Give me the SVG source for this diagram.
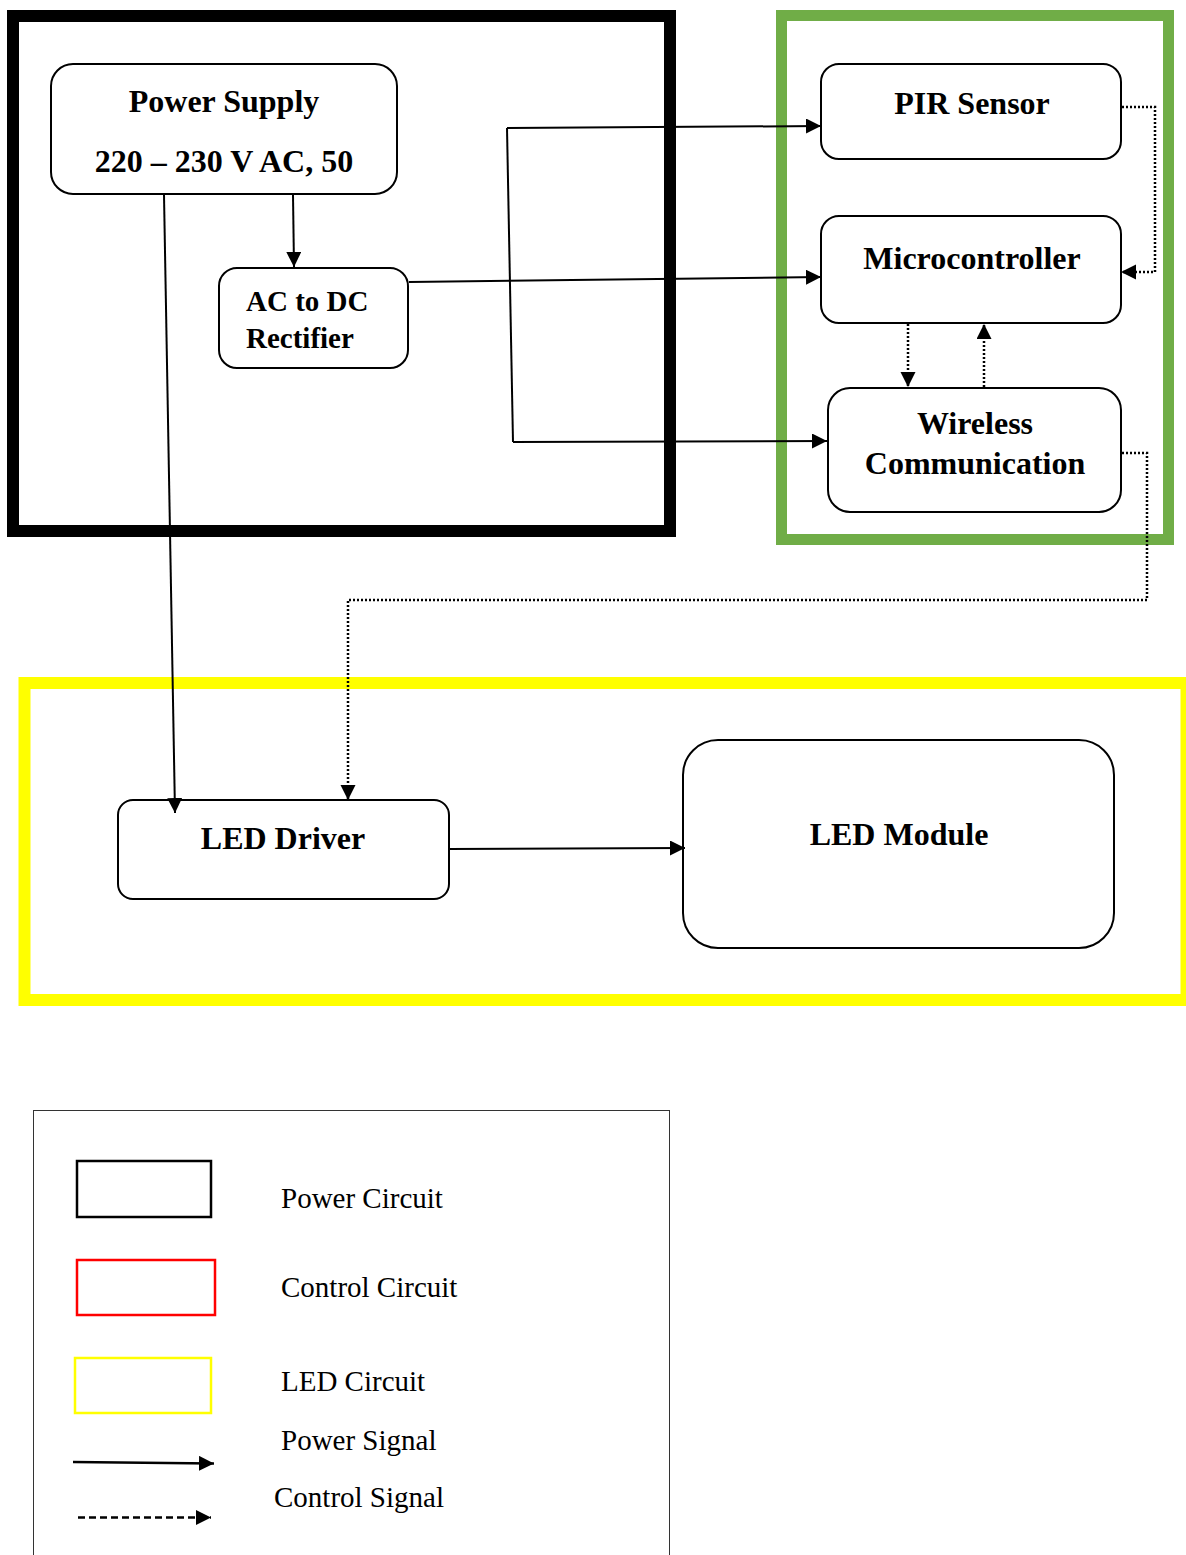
<svg xmlns="http://www.w3.org/2000/svg" width="1186" height="1555" viewBox="0 0 1186 1555">
  <style>
    .frame { fill: none; }
    .node { fill: #ffffff; stroke: #000000; stroke-width: 2; }
    .lbl { font-family: "Liberation Serif", "Times New Roman", serif; font-weight: bold; font-size: 32px; fill: #000000; }
    .lg { font-family: "Liberation Serif", "Times New Roman", serif; font-size: 29px; fill: #000000; }
    .wire { fill: none; stroke: #000000; stroke-width: 2; }
    .dot { fill: none; stroke: #000000; stroke-width: 2.5; stroke-dasharray: 2 2; }
  </style>
  <defs>
    <marker id="arrow" markerUnits="userSpaceOnUse" markerWidth="16" markerHeight="16" refX="15" refY="7.5" orient="auto">
      <path d="M0,0 L15,7.5 L0,15 z" fill="#000000"/>
    </marker>
  </defs>

  <rect width="1186" height="1555" fill="#ffffff"/>

  <!-- circuit frames -->
  <g id="frames">
    <rect id="power-frame" class="frame" x="13" y="16" width="657" height="515" stroke="#000000" stroke-width="12"/>
    <rect id="control-frame" class="frame" x="781.5" y="15.5" width="387" height="524" stroke="#70AD47" stroke-width="11"/>
    <rect id="led-frame" class="frame" x="24.5" y="683" width="1162" height="317" stroke="#FFFF00" stroke-width="12"/>
  </g>

  <!-- blocks -->
  <g id="power-supply">
    <rect class="node" x="51" y="64" width="346" height="130" rx="22"/>
    <text class="lbl" x="224" y="112" text-anchor="middle">Power Supply</text>
    <text class="lbl" x="224" y="172" text-anchor="middle">220 – 230 V AC, 50</text>
  </g>
  <g id="rectifier">
    <rect class="node" x="219" y="268" width="189" height="100" rx="18"/>
    <text class="lbl" x="246" y="311" style="font-size:29px">AC to DC</text>
    <text class="lbl" x="246" y="348" style="font-size:29px">Rectifier</text>
  </g>
  <g id="pir-sensor">
    <rect class="node" x="821" y="64" width="300" height="95" rx="18"/>
    <text class="lbl" x="972" y="114" text-anchor="middle">PIR Sensor</text>
  </g>
  <g id="microcontroller">
    <rect class="node" x="821" y="216" width="300" height="107" rx="18"/>
    <text class="lbl" x="972" y="269" text-anchor="middle">Microcontroller</text>
  </g>
  <g id="wireless">
    <rect class="node" x="828" y="388" width="293" height="124" rx="22"/>
    <text class="lbl" x="975" y="434" text-anchor="middle">Wireless</text>
    <text class="lbl" x="975" y="474" text-anchor="middle">Communication</text>
  </g>
  <g id="led-driver">
    <rect class="node" x="118" y="800" width="331" height="99" rx="15"/>
    <text class="lbl" x="283" y="849" text-anchor="middle">LED Driver</text>
  </g>
  <g id="led-module">
    <rect class="node" x="683" y="740" width="431" height="208" rx="35"/>
    <text class="lbl" x="899" y="845" text-anchor="middle">LED Module</text>
  </g>

  <!-- connectors -->
  <g id="connectors">
    <path class="wire" d="M293,195 L294,267" marker-end="url(#arrow)"/>
    <path class="wire" d="M164,195 L175,813" marker-end="url(#arrow)"/>
    <path class="wire" d="M409,282 L821,277" marker-end="url(#arrow)"/>
    <path class="wire" d="M507,128 L821,126" marker-end="url(#arrow)"/>
    <path class="wire" d="M507,128 L513,442"/>
    <path class="wire" d="M513,442 L827,441" marker-end="url(#arrow)"/>
    <path class="wire" d="M449,849 L685,848" marker-end="url(#arrow)"/>
    <path class="dot" d="M1122,107 H1155 V272 H1121" marker-end="url(#arrow)"/>
    <path class="dot" d="M1122,453 H1147 V600 H348 V800" marker-end="url(#arrow)"/>
    <path class="dot" d="M908,324 V387" marker-end="url(#arrow)"/>
    <path class="dot" d="M984,387 V324" marker-end="url(#arrow)"/>
  </g>

  <!-- legend -->
  <g id="legend">
    <rect x="33.5" y="1110.5" width="636" height="470" fill="none" stroke="#333333" stroke-width="1"/>
    <rect x="77" y="1161" width="134" height="56" fill="none" stroke="#000000" stroke-width="2.5"/>
    <text class="lg" x="281" y="1208">Power Circuit</text>
    <rect x="77" y="1260" width="138" height="55" fill="none" stroke="#FF0000" stroke-width="2.5"/>
    <text class="lg" x="281" y="1297">Control Circuit</text>
    <rect x="75" y="1358" width="136" height="55" fill="none" stroke="#FFFF00" stroke-width="2.5"/>
    <text class="lg" x="281" y="1391">LED Circuit</text>
    <path class="wire" d="M73,1462 L214,1463.5" marker-end="url(#arrow)" style="stroke-width:2.5"/>
    <text class="lg" x="281" y="1450">Power Signal</text>
    <path d="M78,1517.5 L211,1517.5" fill="none" stroke="#000000" stroke-width="2.5" stroke-dasharray="7 4" marker-end="url(#arrow)"/>
    <text class="lg" x="274" y="1507">Control Signal</text>
  </g>
</svg>
